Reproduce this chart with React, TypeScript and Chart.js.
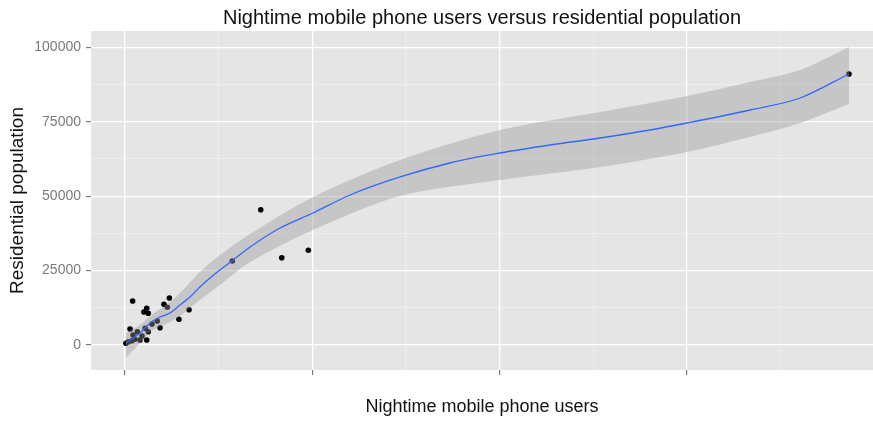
import React, { useEffect, useRef } from "react";
import { Chart, registerables } from "chart.js";

Chart.register(...registerables);

// Observations (nighttime mobile phone users vs residential population)
const pointsX = [50, 180, 360, 530, 800, 1160, 660, 270, 1080, 1240, 1720, 1870, 1160, 1010, 1240, 2080, 2260, 410, 2370, 3420, 2880, 430, 910, 1440, 5730, 7250, 8370, 9790, 38660];
const pointsY = [570, 1100, 1440, 1900, 1680, 1680, 4470, 5380, 5610, 4470, 8060, 5810, 12330, 11090, 10650, 13680, 12670, 14780, 15790, 11860, 8640, 3360, 3020, 7060, 28220, 45460, 29330, 31820, 91060];

// Smoothed fit (loess) line
const smoothX = [50, 800, 1340, 1870, 2400, 2940, 3470, 4000, 4540, 5070, 5710, 6680, 8280, 10040, 12020, 14690, 17350, 20030, 22700, 25370, 28040, 30010, 33380, 36050, 38660];
const smoothY = [670, 4030, 7390, 9410, 10750, 13440, 16130, 19490, 22510, 25200, 28220, 32930, 39310, 44350, 50400, 56450, 61150, 64510, 67200, 69550, 72240, 74590, 78960, 82990, 91060];

// Confidence band
const bandX = [50, 800, 1340, 2400, 2940, 4000, 5070, 6680, 10040, 14690, 20030, 25370, 30010, 33380, 36050, 38660];
const bandUpper = [4030, 6720, 9740, 14450, 17470, 24530, 30240, 37300, 49730, 62160, 72240, 78290, 83660, 88370, 92400, 100130];
const bandLower = [-4370, 670, 4370, 7730, 9740, 15120, 20160, 27890, 38640, 50060, 55440, 59810, 64850, 69890, 74590, 80980];

// Axis ticks
const xMajorTicks = [0, 10000, 20000, 30000];
const xMinorTicks = [5000, 15000, 25000, 35000];
const yMajorTicks = [0, 25000, 50000, 75000, 100000];
const yMinorTicks = [12500, 37500, 62500, 87500];

const chartTitle = "Nightime mobile phone users versus residential population";
const xTitle = "Nightime mobile phone users";
const yTitle = "Residential population";

const FONT = "'Liberation Sans', Arial, sans-serif";

const panelBg = {
  id: "panelBg",
  beforeDraw(chart: any) {
    const { ctx, chartArea } = chart;
    if (!chartArea) return;
    ctx.save();
    ctx.fillStyle = "#E5E5E5";
    ctx.fillRect(chartArea.left, chartArea.top, chartArea.right - chartArea.left, chartArea.bottom - chartArea.top);
    ctx.restore();
  },
};

function gridFor(majors: number[]) {
  const isMajor = (ctx: any) => ctx.tick && majors.includes(ctx.tick.value);
  return {
    color: (ctx: any) => (isMajor(ctx) ? "#FFFFFF" : "#F3F3F3"),
    lineWidth: (ctx: any) => (isMajor(ctx) ? 1.3 : 0.6),
    tickColor: (ctx: any) => (isMajor(ctx) ? "#666666" : "rgba(0,0,0,0)"),
    tickWidth: 1,
    tickLength: 5,
    drawTicks: true,
  };
}

export default function App() {
  const ref = useRef<HTMLCanvasElement | null>(null);

  useEffect(() => {
    if (!ref.current) return;
    const chart = new Chart(ref.current, {
      type: "scatter",
      data: {
        datasets: [
          {
            label: "points",
            data: pointsX.map((x, i) => ({ x, y: pointsY[i] })),
            backgroundColor: "#000000",
            borderColor: "#000000",
            pointRadius: 2.8,
            pointBorderWidth: 0,
            showLine: false,
            order: 3,
          },
          {
            label: "lower",
            data: bandX.map((x, i) => ({ x, y: bandLower[i] })),
            showLine: true,
            borderWidth: 0,
            borderColor: "rgba(0,0,0,0)",
            pointRadius: 0,
            fill: false,
            tension: 0.3,
            order: 2,
          },
          {
            label: "upper",
            data: bandX.map((x, i) => ({ x, y: bandUpper[i] })),
            showLine: true,
            borderWidth: 0,
            borderColor: "rgba(0,0,0,0)",
            backgroundColor: "rgba(153,153,153,0.4)",
            pointRadius: 0,
            fill: 1,
            tension: 0.3,
            order: 2,
          },
          {
            label: "smooth",
            data: smoothX.map((x, i) => ({ x, y: smoothY[i] })),
            showLine: true,
            borderColor: "#3366FF",
            borderWidth: 1.3,
            pointRadius: 0,
            fill: false,
            cubicInterpolationMode: "monotone",
            order: 1,
          },
        ],
      },
      options: {
        animation: false,
        responsive: false,
        maintainAspectRatio: false,
        layout: { autoPadding: false, padding: { left: 0, right: 0, top: 0, bottom: 0 } },
        plugins: {
          legend: { display: false },
          tooltip: { enabled: false },
          title: {
            display: true,
            fullSize: false,
            text: chartTitle,
            color: "#111111",
            font: { family: FONT, size: 20, weight: "normal" },
            padding: { top: 6, bottom: 1 },
          },
        },
        scales: {
          x: {
            type: "linear",
            min: -1815,
            max: 39943,
            afterBuildTicks: (scale: any) => {
              scale.ticks = [...xMajorTicks, ...xMinorTicks].sort((a, b) => a - b).map((v) => ({ value: v }));
            },
            afterFit: (scale: any) => {
              scale.height = 51;
            },
            ticks: { callback: () => "", autoSkip: false, maxRotation: 0 },
            grid: gridFor(xMajorTicks),
            border: { display: false },
            title: {
              display: true,
              text: xTitle,
              color: "#111111",
              font: { family: FONT, size: 18 },
              padding: { top: 0, bottom: 3.5 },
            },
          },
          y: {
            type: "linear",
            min: -8400,
            max: 105500,
            afterBuildTicks: (scale: any) => {
              scale.ticks = [...yMajorTicks, ...yMinorTicks].sort((a, b) => a - b).map((v) => ({ value: v }));
            },
            afterFit: (scale: any) => {
              scale.width = 91;
            },
            ticks: {
              callback: (v: any) => (yMajorTicks.includes(Number(v)) ? String(v) : ""),
              autoSkip: false,
              color: "#7A7A7A",
              font: { family: FONT, size: 14 },
              padding: 5,
            },
            grid: gridFor(yMajorTicks),
            border: { display: false },
            title: {
              display: true,
              text: yTitle,
              color: "#111111",
              font: { family: FONT, size: 19 },
              padding: { top: 6, bottom: 0 },
            },
          },
        },
      },
      plugins: [panelBg],
    });
    return () => chart.destroy();
  }, []);

  return (
    <div style={{ position: "fixed", left: 0, top: 0, width: 873, height: 421, background: "#ffffff" }}>
      <canvas ref={ref} width={873} height={421} style={{ width: 873, height: 421, display: "block" }} />
    </div>
  );
}
